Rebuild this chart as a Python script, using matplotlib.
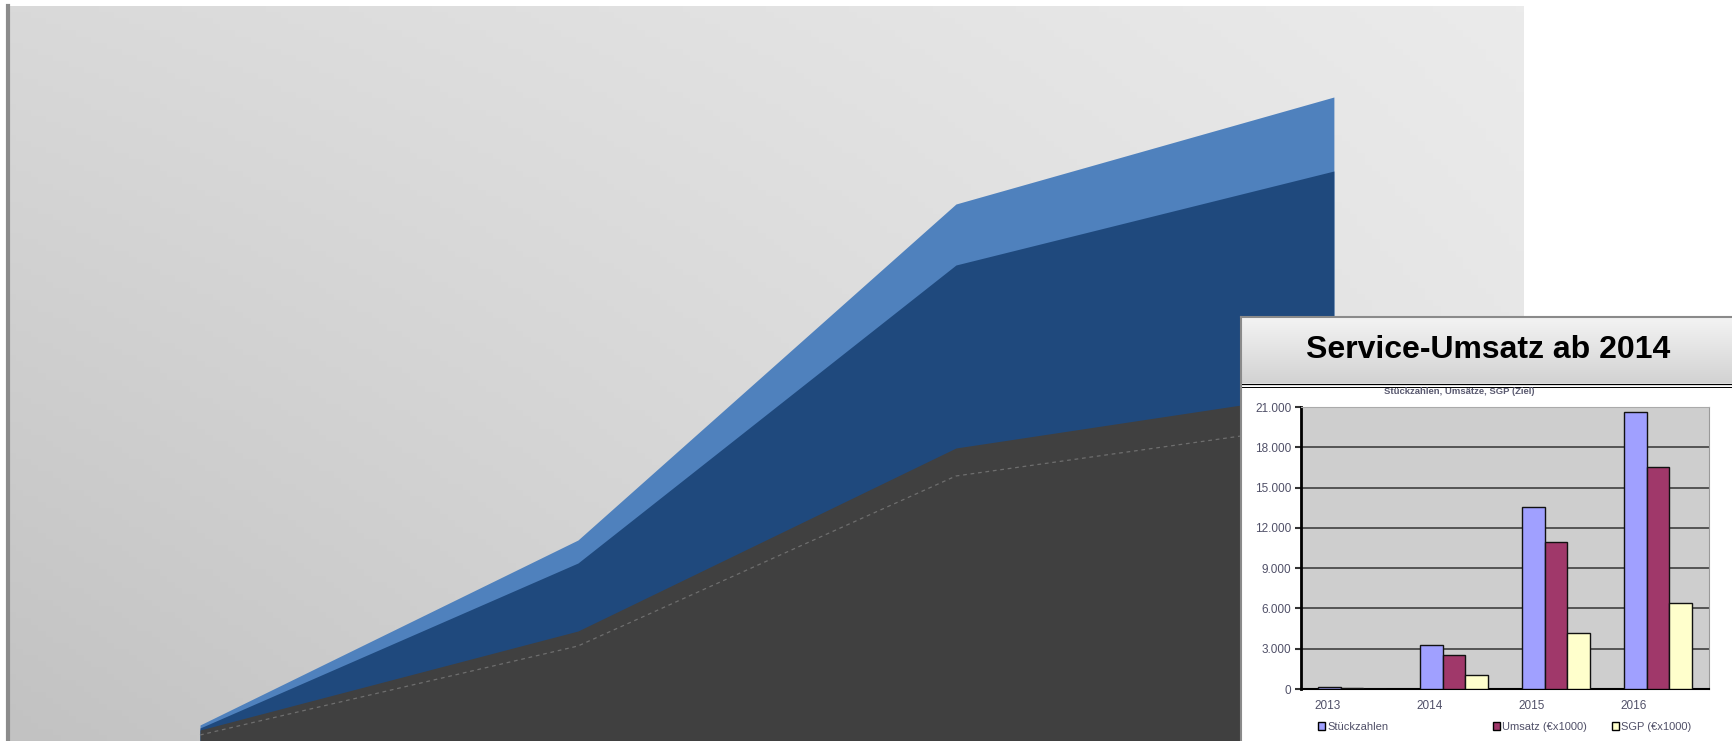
import numpy as np
import matplotlib
matplotlib.use("Agg")
import matplotlib.pyplot as plt
from matplotlib.patches import Patch
from matplotlib.colors import to_rgb

# ---------------- data ----------------
# background (decorative) area chart, arbitrary units
bg_x = [0, 1, 2, 3]
bg_light = [16, 201, 537, 644]
bg_dark = [13, 178, 476, 570]
bg_gray = [11, 110, 293, 350]
bg_dash = [6, 95, 265, 318]

# inset bar chart
years = ["2013", "2014", "2015", "2016"]
stueck = [150, 3250, 13550, 20650]
umsatz = [80, 2500, 10950, 16550]
sgp = [30, 1050, 4150, 6400]
series_labels = ["Stückzahlen", "Umsatz (€x1000)", "SGP (€x1000)"]
yticks = [0, 3000, 6000, 9000, 12000, 15000, 18000, 21000]
ytick_labels = ["0", "3.000", "6.000", "9.000", "12.000", "15.000", "18.000", "21.000"]

W, H = 1733, 741
fig = plt.figure(figsize=(W / 100, H / 100), dpi=100, facecolor="white")


def fx(px):
    return px / W


def fy(py):  # py measured from top
    return 1 - py / H


# ---------------- background area chart ----------------
bg = fig.add_axes([fx(8), 0, fx(1524 - 8), (H - 6) / H])
bg.set_xlim(-0.508, 3.503)
bg.set_ylim(0, 735)
tl, tr, bl, br = [np.array(to_rgb(c)) for c in ("#d9d9d9", "#ebebeb", "#c2c2c2", "#e2e2e2")]
u = np.linspace(0, 1, 200)[None, :, None]
v = np.linspace(1, 0, 120)[:, None, None]  # row 0 = top
grad = (tl * (1 - u) * v + tr * u * v + bl * (1 - u) * (1 - v) + br * u * (1 - v))
bg.imshow(grad, extent=[0, 1, 0, 1], transform=bg.transAxes, aspect="auto", zorder=0)
bg.fill_between(bg_x, 0, bg_light, color="#4f81bd", lw=0, zorder=2)
bg.fill_between(bg_x, 0, bg_dark, color="#1f497d", lw=0, zorder=3)
bg.fill_between(bg_x, 0, bg_gray, color="#404040", lw=0, zorder=4)
bg.plot(bg_x, bg_dash, color="#6e6e6e", lw=0.9, dashes=(3, 3), zorder=5)
bg.set_xticks([])
bg.set_yticks([])
for s in ("top", "right", "bottom"):
    bg.spines[s].set_visible(False)
bg.spines["left"].set_color("#8c8c8c")
bg.spines["left"].set_linewidth(3)

# ---------------- inset panel ----------------
panel = fig.add_axes([fx(1241), 0, 1 - fx(1241), (H - 317) / H])
panel.set_xlim(0, 1)
panel.set_ylim(0, H - 317)
panel.set_facecolor("white")
tb = np.linspace(0, 1, 60)[:, None, None]
top_c, bot_c = np.array(to_rgb("#f3f3f3")), np.array(to_rgb("#d3d3d3"))
bar_grad = np.repeat(top_c * (1 - tb) + bot_c * tb, 10, axis=1)
panel.imshow(bar_grad, extent=[0, 1, H - 383, H - 317], aspect="auto", zorder=0)
panel.axhline(H - 384, color="black", lw=0.9)
panel.axhline(H - 386.5, color="black", lw=0.7)
panel.set_xticks([])
panel.set_yticks([])
for s in panel.spines.values():
    s.set_color("#8a8a8a")
    s.set_linewidth(1.5)
panel.spines["bottom"].set_visible(False)
panel.spines["right"].set_visible(False)

fig.text(fx(1488), fy(350), "Service-Umsatz ab 2014", ha="center", va="center",
         fontsize=23, fontweight="bold", family="Liberation Sans", color="black")
fig.text(fx(1459), fy(392), "Stückzahlen, Umsätze, SGP (Ziel)", ha="center", va="center",
         fontsize=6.8, fontweight="bold", family="Liberation Sans", color="#5a5a70")

# ---------------- inset bar chart ----------------
ax = fig.add_axes([fx(1301), fy(689), fx(1709 - 1301), (689 - 407) / H])
ax.set_facecolor("#cecece")
x = np.arange(len(years))
bw = 0.22
ax.bar(x - bw, stueck, bw, color="#a0a0ff", edgecolor="#111111", lw=1, zorder=3, label=series_labels[0])
ax.bar(x, umsatz, bw, color="#a0386a", edgecolor="#111111", lw=1, zorder=3, label=series_labels[1])
ax.bar(x + bw, sgp, bw, color="#ffffcc", edgecolor="#111111", lw=1, zorder=3, label=series_labels[2])
ax.set_xlim(-0.5, len(years) - 0.5)
ax.set_ylim(0, 21000)
ax.set_yticks(yticks)
ax.set_yticklabels(ytick_labels, family="Liberation Sans", fontsize=8.5, color="#505068")
ax.yaxis.grid(True, color="#333333", lw=1.1, zorder=1)
ax.set_axisbelow(True)
ax.tick_params(axis="y", length=4, width=1.5, color="#333333", pad=3)
ax.set_xticks(x - 0.24)
ax.set_xticklabels(years, family="Liberation Sans", fontsize=8.5, color="#505068")
ax.tick_params(axis="x", length=0, pad=8)
ax.spines["left"].set_color("black")
ax.spines["left"].set_linewidth(2)
ax.spines["bottom"].set_color("black")
ax.spines["bottom"].set_linewidth(1.5)
ax.spines["top"].set_color("#aaaaaa")
ax.spines["right"].set_color("#9a9a9a")

handles = [Patch(facecolor="#a0a0ff", edgecolor="black"),
           Patch(facecolor="#a0386a", edgecolor="black"),
           Patch(facecolor="#ffffcc", edgecolor="black")]
for h, lab, xpos in zip(handles, series_labels, (1312, 1487, 1606)):
    fig.legend([h], [lab], loc="center left", bbox_to_anchor=(fx(xpos), fy(727)),
               frameon=False, prop={"family": "Liberation Sans", "size": 8},
               handlelength=0.7, handleheight=0.7, handletextpad=0.15, borderpad=0,
               labelcolor="#505068")

fig.savefig("out.png", dpi=100, facecolor="white")
